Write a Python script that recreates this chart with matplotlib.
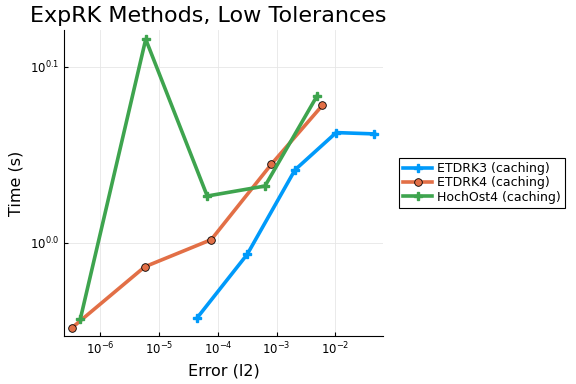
import matplotlib
matplotlib.use('Agg')
import matplotlib.pyplot as plt
from matplotlib.ticker import FixedLocator, FixedFormatter, NullLocator

# data (error, time)
etdrk3_err = [4.39e-5, 3.16e-4, 2.05e-3, 1.03e-2, 4.61e-2]
etdrk3_time = [0.906, 0.985, 1.100, 1.155, 1.153]
etdrk4_err = [3.33e-7, 5.69e-6, 7.69e-5, 8.09e-4, 6.01e-3]
etdrk4_time = [0.895, 0.969, 1.004, 1.108, 1.197]
hochost4_err = [4.56e-7, 5.91e-6, 6.58e-5, 6.33e-4, 4.88e-3]
hochost4_time = [0.905, 1.305, 1.063, 1.077, 1.212]

fig = plt.figure(figsize=(5.76, 3.84), dpi=100)
ax = fig.add_axes([0.111, 0.125, 0.554, 0.797])

ax.plot(etdrk3_err, etdrk3_time, color='#009AFA', lw=2.6, marker='P', ms=5.5,
        mec='#009AFA', label='ETDRK3 (caching)')
ax.plot(etdrk4_err, etdrk4_time, color='#E26F46', lw=2.6, marker='o', ms=5.5,
        mec='black', mew=0.6, label='ETDRK4 (caching)')
ax.plot(hochost4_err, hochost4_time, color='#3EA44E', lw=2.6, marker='P', ms=5.5,
        mec='#3EA44E', label='HochOst4 (caching)')

ax.set_xscale('log')
ax.set_yscale('log')
ax.set_xlim(10**-6.62, 10**-1.19)
ax.set_ylim(10**-0.053, 10**0.1209)

ax.xaxis.set_major_locator(FixedLocator([1e-6, 1e-5, 1e-4, 1e-3, 1e-2]))
ax.xaxis.set_major_formatter(FixedFormatter(['$10^{-6}$', '$10^{-5}$', '$10^{-4}$', '$10^{-3}$', '$10^{-2}$']))
ax.xaxis.set_minor_locator(NullLocator())
ax.yaxis.set_major_locator(FixedLocator([1.0, 10**0.1]))
ax.yaxis.set_major_formatter(FixedFormatter(['$10^{0.0}$', '$10^{0.1}$']))
ax.yaxis.set_minor_locator(NullLocator())

ax.tick_params(direction='in', length=3, labelsize=8.5, color='black')
ax.grid(True, color='#e6e6e6', lw=0.6)
ax.set_axisbelow(True)
for s in ['top', 'right']:
    ax.spines[s].set_visible(False)

ax.set_xlabel('Error (l2)', fontsize=11.5)
ax.set_ylabel('Time (s)', fontsize=11.5)
ax.set_title('ExpRK Methods, Low Tolerances', fontsize=16, x=0.451)

leg = ax.legend(loc='center left', bbox_to_anchor=(1.05, 0.5), fontsize=9,
                fancybox=False, edgecolor='black', framealpha=1,
                handlelength=2.3, borderaxespad=0, labelspacing=0.1,
                borderpad=0.35, handletextpad=0.4)
leg.get_frame().set_linewidth(0.8)

fig.savefig('out.png', dpi=100)
